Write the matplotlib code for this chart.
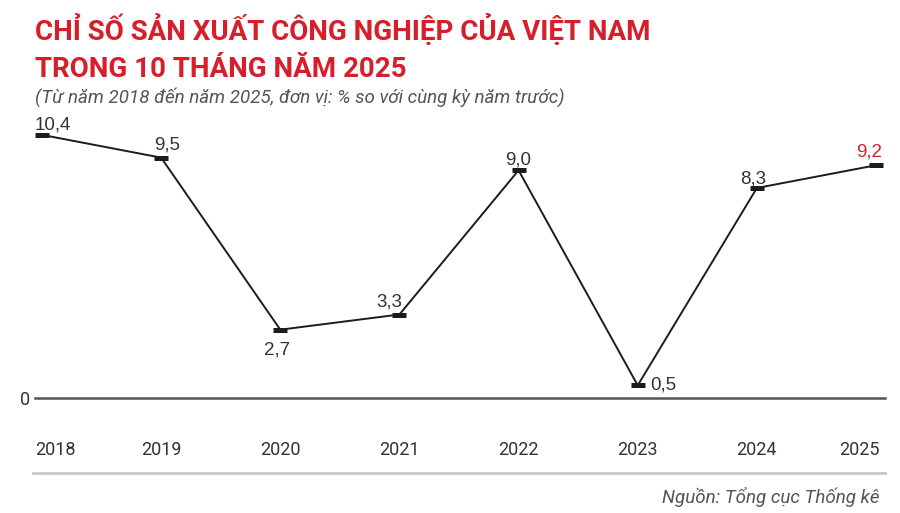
import matplotlib
matplotlib.use("Agg")
import matplotlib.pyplot as plt
import matplotlib.transforms as mtransforms
from matplotlib.lines import Line2D

# du lieu
years = ["2018", "2019", "2020", "2021", "2022", "2023", "2024", "2025"]
values = [10.4, 9.5, 2.7, 3.3, 9.0, 0.5, 8.3, 9.2]
value_labels = ["10,4", "9,5", "2,7", "3,3", "9,0", "0,5", "8,3", "9,2"]

title = "CHỈ SỐ SẢN XUẤT CÔNG NGHIỆP CỦA VIỆT NAM\nTRONG 10 THÁNG NĂM 2025"
subtitle = "(Từ năm 2018 đến năm 2025, đơn vị: % so với cùng kỳ năm trước)"
source = "Nguồn: Tổng cục Thống kê"

RED = "#d71f2c"
DARK = "#1c1c1c"
TXT = "#333333"
GREY = "#555555"

# vi tri nhan (dx, dy theo pixel, ha, va)
label_pos = [(-7, 5, "left", "baseline"), (-7, 8, "left", "baseline"),
             (-3, -12, "center", "top"), (3, 8, "right", "baseline"),
             (0, 6, "center", "baseline"), (13, -4, "left", "baseline"),
             (9, 5, "right", "baseline"), (6, 9, "right", "baseline")]

plt.rcParams["font.family"] = ["Roboto", "DejaVu Sans"]

W, H = 900, 513
fig = plt.figure(figsize=(W / 100, H / 100), dpi=100)

# truc: x tu pixel 35 den 885, y=0 tai pixel 398
ax = fig.add_axes([35 / W, (H - 398) / H, 850 / W, 278 / H])
x = list(range(len(years)))
step = 119.1
ax.set_xlim(-7 / step, 7 + 9 / step)
ax.set_ylim(0, 278 / 25.3)

ax.plot(x, values, color=DARK, lw=1.4, marker="_", ms=10, mew=3.6, clip_on=False, zorder=3)

for i, (v, lab) in enumerate(zip(values, value_labels)):
    dx, dy, ha, va = label_pos[i]
    ax.annotate(lab, (i, v), xytext=(dx, dy), textcoords="offset pixels",
                ha=ha, va=va, fontsize=13.5, family=["Liberation Sans", "DejaVu Sans"],
                color=RED if i == len(values) - 1 else TXT)

for s in ["top", "right", "left"]:
    ax.spines[s].set_visible(False)
ax.spines["bottom"].set_color(GREY)
ax.spines["bottom"].set_linewidth(1.8)

ax.set_yticks([0])
ax.set_yticklabels(["0"], fontsize=13, color=TXT)
ax.tick_params(axis="y", length=0, pad=3.6)
ax.set_xticks(x)
ax.set_xticklabels(years, fontsize=13, color=TXT)
ax.tick_params(axis="x", length=0, pad=31)
xl = ax.get_xticklabels()
xl[0].set_ha("left")
xl[0].set_transform(xl[0].get_transform() + mtransforms.ScaledTranslation(-7 / 100, 0, fig.dpi_scale_trans))
xl[-1].set_ha("right")
xl[-1].set_transform(xl[-1].get_transform() + mtransforms.ScaledTranslation(4 / 100, 0, fig.dpi_scale_trans))

# duong ke xam phia duoi
fig.add_artist(Line2D([33 / W, 885 / W], [(H - 473) / H] * 2, color="#c8c8c8", lw=2))

t1, t2 = title.split("\n")
fig.text(35 / W, 1 - 40 / H, t1, fontsize=20, weight="bold", color=RED, va="baseline")
fig.text(35 / W, 1 - 77 / H, t2, fontsize=20, weight="bold", color=RED, va="baseline")
fig.text(35 / W, 1 - 103 / H, subtitle, fontsize=13.5, style="italic", color=GREY, va="baseline")
fig.text(880 / W, 1 - 503 / H, source, fontsize=13.5, style="italic", color=GREY, va="baseline", ha="right")

fig.savefig("out.png", dpi=100)
